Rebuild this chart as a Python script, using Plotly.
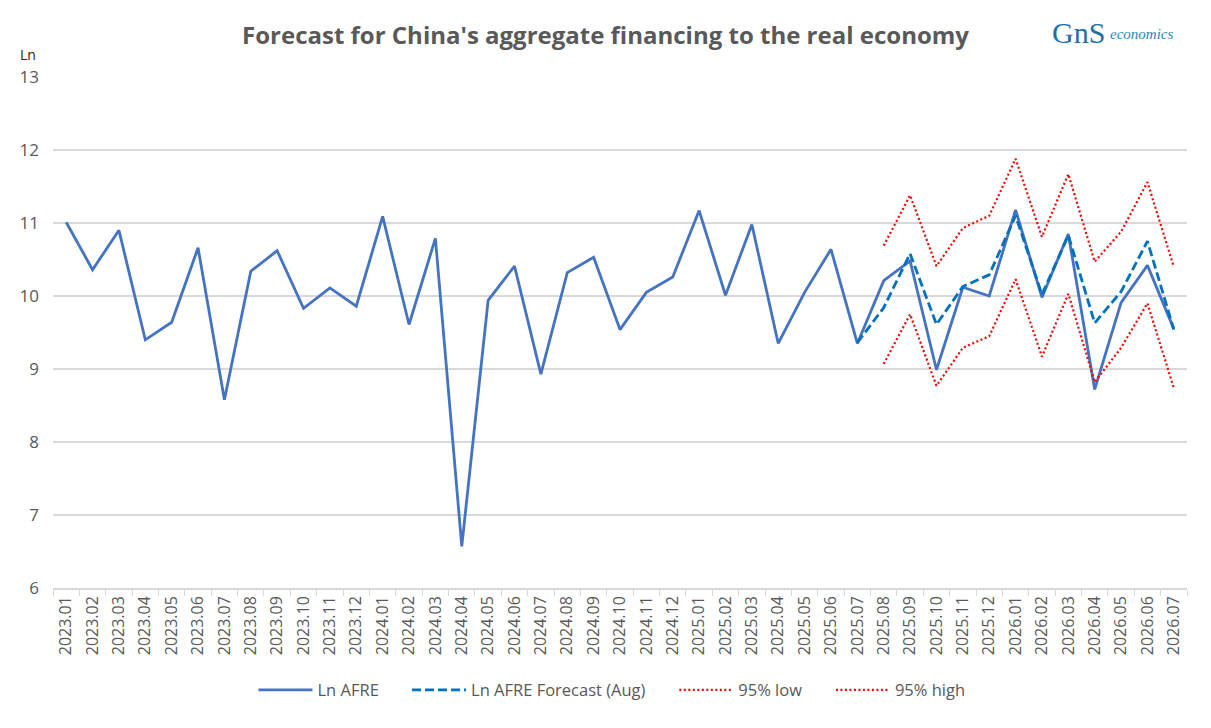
import plotly.graph_objects as go

# Monthly categories 2023.01 .. 2026.07
months = [f"{y}.{m:02d}" for y in (2023, 2024, 2025, 2026) for m in range(1, 13)]
months = months[:months.index("2026.07") + 1]

# Ln AFRE (actual + later values)
ln_afre = [11.01, 10.36, 10.90, 9.40, 9.64, 10.66, 8.58, 10.34, 10.62, 9.83, 10.11, 9.86,
           11.09, 9.61, 10.79, 6.57, 9.94, 10.41, 8.93, 10.32, 10.53, 9.54, 10.05, 10.26,
           11.17, 10.01, 10.98, 9.35, 10.05, 10.64, 9.35, 10.21, 10.48, 8.99, 10.12, 10.00,
           11.18, 9.98, 10.85, 8.72, 9.91, 10.42, 9.55]

# Forecast from 2025.07 onward
fc_months = months[months.index("2025.07"):]
fc_mid = [9.36, 9.84, 10.58, 9.61, 10.13, 10.29, 11.10, 10.02, 10.83, 9.63, 10.06, 10.75, 9.54]

band_months = months[months.index("2025.08"):]
fc_low = [9.07, 9.75, 8.77, 9.29, 9.45, 10.23, 9.17, 10.03, 8.82, 9.29, 9.90, 8.74]
fc_high = [10.69, 11.38, 10.41, 10.93, 11.10, 11.88, 10.81, 11.67, 10.47, 10.88, 11.56, 10.40]

grey = "#595959"

fig = go.Figure()
fig.add_trace(go.Scatter(x=months, y=ln_afre, name="Ln AFRE", mode="lines",
                         line=dict(color="#4472C4", width=2.8), legend="legend"))
fig.add_trace(go.Scatter(x=fc_months, y=fc_mid, name="Ln AFRE Forecast (Aug)", mode="lines",
                         line=dict(color="#0070C0", width=2.8, dash="9px,4px"),
                         legend="legend2"))
fig.add_trace(go.Scatter(x=band_months, y=fc_low, name="95% low", mode="lines",
                         line=dict(color="#FF0000", width=2.2, dash="2px,2.5px"),
                         legend="legend3"))
fig.add_trace(go.Scatter(x=band_months, y=fc_high, name="95% high", mode="lines",
                         line=dict(color="#FF0000", width=2.2, dash="2px,2.5px"),
                         legend="legend4"))

# one legend per entry so the spacing matches the Excel-style legend row
leg = dict(y=-0.2, yanchor="middle", xanchor="left", orientation="h",
           font=dict(size=16.5, color=grey), itemwidth=54, bgcolor="rgba(0,0,0,0)")

# page has an 8px body margin, so the figure is 16px smaller than the window
fig.update_layout(
    width=1195,
    height=712,
    margin=dict(l=42, r=16, t=69, b=127),
    plot_bgcolor="white",
    paper_bgcolor="white",
    font=dict(family="Open Sans", color=grey, size=15),
    title=dict(text="<b>Forecast for China's aggregate financing to the real economy</b>",
               x=0.5, xanchor="center", y=0.961, yanchor="middle",
               font=dict(size=24, color=grey)),
    legend=dict(leg, x=0.1768),
    legend2=dict(leg, x=0.3122),
    legend3=dict(leg, x=0.5479),
    legend4=dict(leg, x=0.6860),
    showlegend=True,
)

fig.update_xaxes(
    type="category",
    categoryorder="array",
    categoryarray=months,
    range=[-0.5, len(months) - 0.5],
    tickangle=-90,
    tickfont=dict(size=16, color=grey),
    showgrid=False,
    showline=True,
    linecolor="#D9D9D9",
    linewidth=1.5,
    ticks="outside",
    tickson="boundaries",
    ticklen=6,
    tickcolor="#D9D9D9",
)
fig.update_yaxes(
    range=[6, 13],
    dtick=1,
    tickfont=dict(size=17, color=grey),
    showgrid=True,
    gridcolor="#D9D9D9",
    gridwidth=1.5,
    zeroline=False,
    showline=False,
    ticklabelstandoff=13,
)

fig.add_annotation(text="Ln", xref="paper", yref="paper", x=-0.0308, y=1.044,
                   xanchor="left", yanchor="middle", showarrow=False,
                   font=dict(size=14, color="#262626"))

# logo as text
fig.add_annotation(text="GnS", xref="paper", yref="paper", x=0.904, y=1.087,
                   xanchor="center", yanchor="middle", showarrow=False,
                   font=dict(family="Liberation Serif", size=30, color="#1F6FA8"))
fig.add_annotation(text="<i>economics</i>", xref="paper", yref="paper", x=0.96, y=1.085,
                   xanchor="center", yanchor="middle", showarrow=False,
                   font=dict(family="Liberation Serif", size=15, color="#2A86B8"))

fig.write_html("out.html")
